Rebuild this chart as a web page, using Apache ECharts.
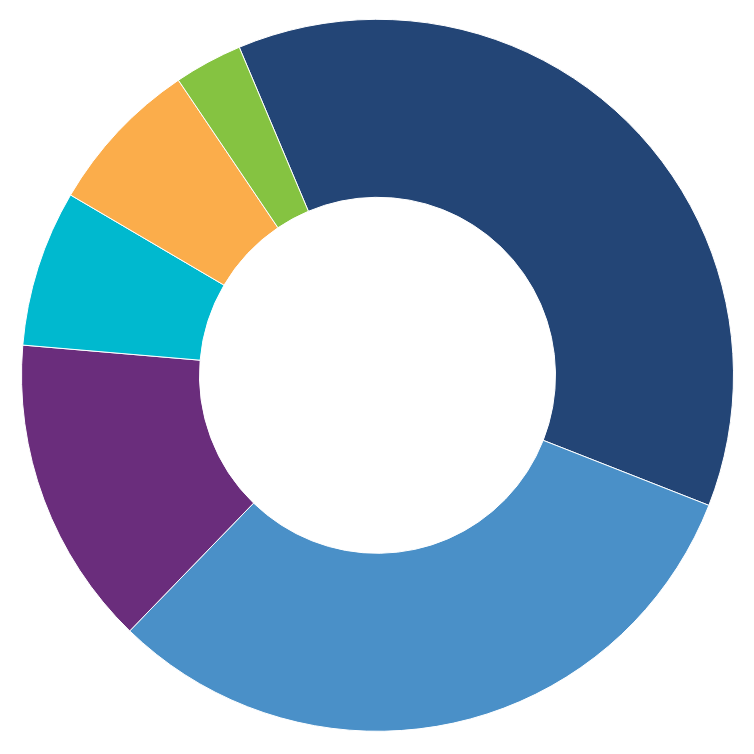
<!DOCTYPE html>
<html>
<head>
<meta charset="utf-8">
<script src="https://cdn.jsdelivr.net/npm/echarts@6/dist/echarts.min.js"></script>
<style>html,body{margin:0;padding:0;background:#fff}#c{width:754px;height:754px}</style>
</head>
<body>
<div id="c"></div>
<script>
const categories = ['A', 'B', 'C', 'D', 'E', 'F'];
const values = [37.3, 31.3, 14.1, 7.1, 7.1, 3.1];
const colors = ['#234576', '#4a90c8', '#6a2d7c', '#00b9cf', '#fbad4b', '#85c341'];

const chart = echarts.init(document.getElementById('c'));
chart.setOption({
  animation: false,
  series: [{
    type: 'pie',
    center: [377.5, 375.3],
    radius: [178, 356],
    startAngle: 112.85,
    clockwise: true,
    label: { show: false },
    labelLine: { show: false },
    itemStyle: { borderColor: '#ffffff', borderWidth: 1 },
    emphasis: { disabled: true },
    data: categories.map((c, i) => ({ name: c, value: values[i], itemStyle: { color: colors[i] } }))
  }]
});
</script>
</body>
</html>
